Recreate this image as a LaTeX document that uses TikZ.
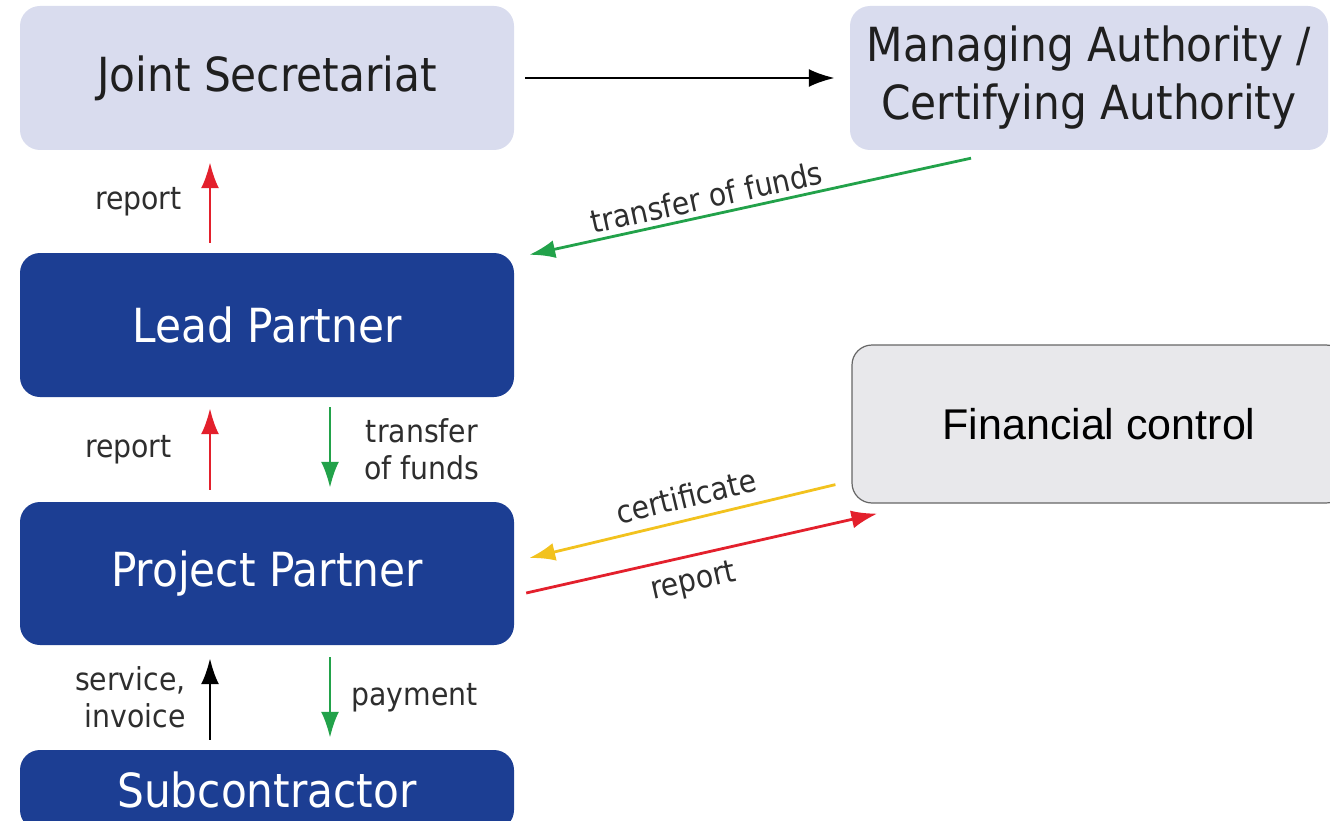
\documentclass[tikz,border=0pt]{standalone}
\usepackage{fontspec}
\setmainfont{DejaVu Sans}[FakeStretch=0.9]
\newfontfamily\arialfont{Liberation Sans}
\usetikzlibrary{arrows.meta}

\definecolor{jslilac}{HTML}{D9DCEE}
\definecolor{lpblue}{HTML}{1C3E93}
\definecolor{fcgray}{HTML}{E8E8EB}
\definecolor{repred}{HTML}{E3202C}
\definecolor{fundgreen}{HTML}{22A24A}
\definecolor{certyellow}{HTML}{F2C21E}

\begin{document}
\begin{tikzpicture}[x=1pt, y=-1pt,
  box/.style = {rounded corners=20pt, inner sep=0pt, minimum width=494pt, minimum height=144pt,
                align=center, font=\fontsize{47}{58}\selectfont},
  light/.style = {box, fill=jslilac, text=black!88},
  dark/.style = {box, fill=lpblue, text=white},
  flow/.style = {line width=2.8pt, -{Latex[length=26pt,width=18pt]}},
  lbl/.style = {inner sep=0pt, text=black!82, font=\fontsize{31.5}{37}\selectfont}]
\useasboundingbox (0,0) rectangle (1330,821);
\clip (0,0) rectangle (1330,821);

\node[light] (js) at (267,78) {Joint Secretariat};
\node[light, minimum width=478pt] (ma) at (1089,78) {Managing Authority /\\Certifying Authority};
\node[dark] (lp) at (267,325) {Lead Partner};
\node[dark, minimum height=143pt] (pp) at (267,573.5) {Project Partner};
\node[dark, minimum height=80pt] (sc) at (267,790) {Subcontractor};
\node[box, fill=fcgray, draw=black!60, line width=1.2pt, minimum width=494pt, minimum height=158pt,
      font=\arialfont\fontsize{43}{50}\selectfont] (fc) at (1099,424) {Financial control};

\draw[flow] (js.east) -- (ma.west) [shorten <=11pt, shorten >=15pt];
\draw[flow, repred, shorten <=10pt, shorten >=12pt] ([xshift=-57pt]lp.north) -- ([xshift=-57pt]js.south)
  node[lbl, midway, left=27pt] {report};
\draw[flow, fundgreen] ([xshift=-118pt,yshift=-8pt]ma.south) -- ([xshift=15pt,yshift=-2pt]lp.north east)
  node[lbl, pos=0.59, sloped, above=5pt] {transfer of funds};

\draw[flow, repred, shorten <=12pt, shorten >=11pt] ([xshift=-57pt]pp.north) -- ([xshift=-57pt]lp.south)
  node[lbl, midway, left=37pt] {report};
\draw[flow, fundgreen, shorten <=10pt, shorten >=14pt] ([xshift=63pt]lp.south) -- ([xshift=63pt]pp.north)
  node[lbl, midway, right=33pt, align=center] {transfer\\of funds};

\draw[flow, shorten <=10pt, shorten >=13pt] ([xshift=-57pt]sc.north) -- ([xshift=-57pt]pp.south)
  node[lbl, midway, left=23pt, align=right] {service,\\invoice};
\draw[flow, fundgreen, shorten <=12pt, shorten >=12pt] ([xshift=63pt]pp.south) -- ([xshift=63pt]sc.north)
  node[lbl, midway, right=20pt] {payment};

\draw[flow, certyellow] ([xshift=-16pt,yshift=19pt]fc.south west) -- ([xshift=15pt,yshift=15.5pt]pp.east)
  node[lbl, pos=0.47, sloped, above=10pt] {certificate};
\draw[flow, repred] ([xshift=12pt,yshift=-19.5pt]pp.east) -- ([xshift=26pt,yshift=-10pt]fc.south west)
  node[lbl, pos=0.46, sloped, below=11pt] {report};
\end{tikzpicture}
\end{document}
